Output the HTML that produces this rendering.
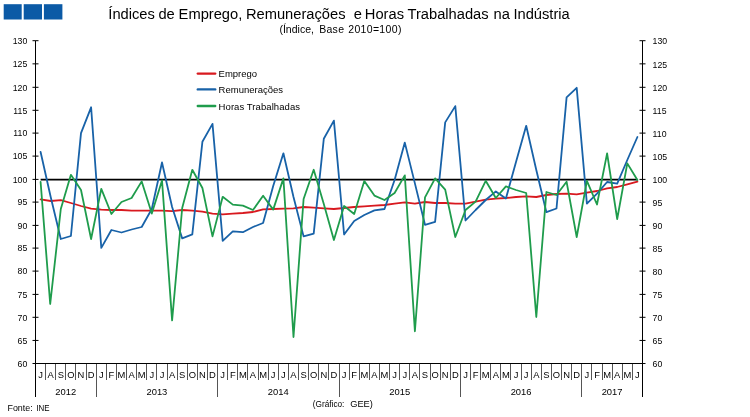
<!DOCTYPE html>
<html><head><meta charset="utf-8"><title>Índices de Emprego, Remunerações e Horas Trabalhadas na Indústria</title>
<style>
html,body{margin:0;padding:0;background:#fff;}
body{width:750px;height:417px;overflow:hidden;}
svg{display:block;}
text{font-family:"Liberation Sans",Arial,sans-serif;fill:#000;}
.ax{font-size:9.4px;}
.lg{font-size:9.5px;}
</style></head><body>
<svg width="750" height="417" viewBox="0 0 750 417">
<rect width="750" height="417" fill="#fff"/>
<g fill="#0b5aa6"><rect x="3.7" y="4.2" width="18" height="15.3"/><rect x="23.7" y="4.2" width="18.3" height="15.3"/><rect x="43.9" y="4.2" width="18.5" height="15.3"/></g>
<text y="18.9" font-size="14.7" xml:space="preserve"><tspan x="108.3">Índices </tspan><tspan x="158.4">de </tspan><tspan x="178.6">Emprego, </tspan><tspan x="245.9">Remunerações </tspan><tspan x="353.8">e </tspan><tspan x="364.8">Horas </tspan><tspan x="407.5">Trabalhadas </tspan><tspan x="493.6">na </tspan><tspan x="513.4">Indústria</tspan></text>
<g font-size="10.5"><text x="279.4" y="32.9" textLength="34.6" lengthAdjust="spacing">(Índice,</text><text x="319.2" y="32.9" textLength="24.8" lengthAdjust="spacing">Base</text><text x="348.2" y="32.9" textLength="53.2" lengthAdjust="spacing">2010=100)</text></g>
<g stroke="#000" stroke-width="1" fill="none" shape-rendering="crispEdges">
<path d="M35.5,40.5 V396.5 M642.5,40.5 V396.5 M35.5,363.5 H642.5"/>
</g><path d="M32.5,40.70 h6 M639.5,40.70 h6 M32.5,63.85 h6 M639.5,63.85 h6 M32.5,87.30 h6 M639.5,87.30 h6 M32.5,110.30 h6 M639.5,110.30 h6 M32.5,133.10 h6 M639.5,133.10 h6 M32.5,156.10 h6 M639.5,156.10 h6 M32.5,179.40 h6 M639.5,179.40 h6 M32.5,202.10 h6 M639.5,202.10 h6 M32.5,225.40 h6 M639.5,225.40 h6 M32.5,248.10 h6 M639.5,248.10 h6 M32.5,271.10 h6 M639.5,271.10 h6 M32.5,294.40 h6 M639.5,294.40 h6 M32.5,317.30 h6 M639.5,317.30 h6 M32.5,340.45 h6 M639.5,340.45 h6 M32.5,363.50 h6 M639.5,363.50 h6 " stroke="#000" stroke-width="1" fill="none"/><g>
</g>
<g stroke="#555" stroke-width="1" fill="none" shape-rendering="crispEdges">
<path d="M45.62,363.5 V379.8 M55.73,363.5 V379.8 M65.85,363.5 V379.8 M75.97,363.5 V379.8 M86.08,363.5 V379.8 M96.20,363.5 V396.5 M106.32,363.5 V379.8 M116.43,363.5 V379.8 M126.55,363.5 V379.8 M136.67,363.5 V379.8 M146.78,363.5 V379.8 M156.90,363.5 V379.8 M167.02,363.5 V379.8 M177.13,363.5 V379.8 M187.25,363.5 V379.8 M197.37,363.5 V379.8 M207.48,363.5 V379.8 M217.60,363.5 V396.5 M227.72,363.5 V379.8 M237.83,363.5 V379.8 M247.95,363.5 V379.8 M258.07,363.5 V379.8 M268.18,363.5 V379.8 M278.30,363.5 V379.8 M288.42,363.5 V379.8 M298.53,363.5 V379.8 M308.65,363.5 V379.8 M318.77,363.5 V379.8 M328.88,363.5 V379.8 M339.00,363.5 V396.5 M349.12,363.5 V379.8 M359.23,363.5 V379.8 M369.35,363.5 V379.8 M379.47,363.5 V379.8 M389.58,363.5 V379.8 M399.70,363.5 V379.8 M409.82,363.5 V379.8 M419.93,363.5 V379.8 M430.05,363.5 V379.8 M440.17,363.5 V379.8 M450.28,363.5 V379.8 M460.40,363.5 V396.5 M470.52,363.5 V379.8 M480.63,363.5 V379.8 M490.75,363.5 V379.8 M500.87,363.5 V379.8 M510.98,363.5 V379.8 M521.10,363.5 V379.8 M531.22,363.5 V379.8 M541.33,363.5 V379.8 M551.45,363.5 V379.8 M561.57,363.5 V379.8 M571.68,363.5 V379.8 M581.80,363.5 V396.5 M591.92,363.5 V379.8 M602.03,363.5 V379.8 M612.15,363.5 V379.8 M622.27,363.5 V379.8 M632.38,363.5 V379.8 "/>
</g>
<g class="ax" text-anchor="end">
<text transform="translate(27.3,43.9) scale(.93,1.03)">130</text><text transform="translate(27.3,67.0) scale(.93,1.03)">125</text><text transform="translate(27.3,90.5) scale(.93,1.03)">120</text><text transform="translate(27.3,113.5) scale(.93,1.03)">115</text><text transform="translate(27.3,136.3) scale(.93,1.03)">110</text><text transform="translate(27.3,159.3) scale(.93,1.03)">105</text><text transform="translate(27.3,182.6) scale(.93,1.03)">100</text><text transform="translate(27.3,205.3) scale(.93,1.03)">95</text><text transform="translate(27.3,228.6) scale(.93,1.03)">90</text><text transform="translate(27.3,251.3) scale(.93,1.03)">85</text><text transform="translate(27.3,274.3) scale(.93,1.03)">80</text><text transform="translate(27.3,297.6) scale(.93,1.03)">75</text><text transform="translate(27.3,320.5) scale(.93,1.03)">70</text><text transform="translate(27.3,343.6) scale(.93,1.03)">65</text><text transform="translate(27.3,366.7) scale(.93,1.03)">60</text>
</g>
<g class="ax">
<text transform="translate(652.6,44.3) scale(.93,1.03)">130</text><text transform="translate(652.6,67.5) scale(.93,1.03)">125</text><text transform="translate(652.6,90.9) scale(.93,1.03)">120</text><text transform="translate(652.6,113.9) scale(.93,1.03)">115</text><text transform="translate(652.6,136.7) scale(.93,1.03)">110</text><text transform="translate(652.6,159.7) scale(.93,1.03)">105</text><text transform="translate(652.6,183.0) scale(.93,1.03)">100</text><text transform="translate(652.6,205.7) scale(.93,1.03)">95</text><text transform="translate(652.6,229.0) scale(.93,1.03)">90</text><text transform="translate(652.6,251.7) scale(.93,1.03)">85</text><text transform="translate(652.6,274.7) scale(.93,1.03)">80</text><text transform="translate(652.6,298.0) scale(.93,1.03)">75</text><text transform="translate(652.6,320.9) scale(.93,1.03)">70</text><text transform="translate(652.6,344.1) scale(.93,1.03)">65</text><text transform="translate(652.6,367.1) scale(.93,1.03)">60</text>
</g>
<g class="ax" text-anchor="middle">
<text x="40.6" y="377.8">J</text><text x="50.7" y="377.8">A</text><text x="60.8" y="377.8">S</text><text x="70.9" y="377.8">O</text><text x="81.0" y="377.8">N</text><text x="91.1" y="377.8">D</text><text x="101.3" y="377.8">J</text><text x="111.4" y="377.8">F</text><text x="121.5" y="377.8">M</text><text x="131.6" y="377.8">A</text><text x="141.7" y="377.8">M</text><text x="151.8" y="377.8">J</text><text x="162.0" y="377.8">J</text><text x="172.1" y="377.8">A</text><text x="182.2" y="377.8">S</text><text x="192.3" y="377.8">O</text><text x="202.4" y="377.8">N</text><text x="212.5" y="377.8">D</text><text x="222.7" y="377.8">J</text><text x="232.8" y="377.8">F</text><text x="242.9" y="377.8">M</text><text x="253.0" y="377.8">A</text><text x="263.1" y="377.8">M</text><text x="273.2" y="377.8">J</text><text x="283.4" y="377.8">J</text><text x="293.5" y="377.8">A</text><text x="303.6" y="377.8">S</text><text x="313.7" y="377.8">O</text><text x="323.8" y="377.8">N</text><text x="333.9" y="377.8">D</text><text x="344.1" y="377.8">J</text><text x="354.2" y="377.8">F</text><text x="364.3" y="377.8">M</text><text x="374.4" y="377.8">A</text><text x="384.5" y="377.8">M</text><text x="394.6" y="377.8">J</text><text x="404.8" y="377.8">J</text><text x="414.9" y="377.8">A</text><text x="425.0" y="377.8">S</text><text x="435.1" y="377.8">O</text><text x="445.2" y="377.8">N</text><text x="455.3" y="377.8">D</text><text x="465.5" y="377.8">J</text><text x="475.6" y="377.8">F</text><text x="485.7" y="377.8">M</text><text x="495.8" y="377.8">A</text><text x="505.9" y="377.8">M</text><text x="516.0" y="377.8">J</text><text x="526.2" y="377.8">J</text><text x="536.3" y="377.8">A</text><text x="546.4" y="377.8">S</text><text x="556.5" y="377.8">O</text><text x="566.6" y="377.8">N</text><text x="576.7" y="377.8">D</text><text x="586.9" y="377.8">J</text><text x="597.0" y="377.8">F</text><text x="607.1" y="377.8">M</text><text x="617.2" y="377.8">A</text><text x="627.3" y="377.8">M</text><text x="637.4" y="377.8">J</text>
<text x="65.8" y="394.8">2012</text><text x="156.9" y="394.8">2013</text><text x="278.3" y="394.8">2014</text><text x="399.7" y="394.8">2015</text><text x="521.1" y="394.8">2016</text><text x="612.1" y="394.8">2017</text>
</g>
<line x1="40.6" y1="179.6" x2="637.4" y2="179.6" stroke="#000" stroke-width="1.7"/>
<g fill="none" stroke-width="1.8" stroke-linejoin="round" stroke-linecap="round">
<polyline stroke="#d8191f" points="40.6,199.4 50.7,201.0 60.8,200.2 70.9,203.0 81.0,206.0 91.1,208.6 101.3,209.6 111.4,210.0 121.5,210.0 131.6,210.6 141.7,210.6 151.8,210.6 162.0,210.6 172.1,211.2 182.2,210.0 192.3,210.6 202.4,211.6 212.5,213.6 222.7,214.4 232.8,213.6 242.9,213.0 253.0,212.0 263.1,209.4 273.2,209.0 283.4,208.6 293.5,208.4 303.6,207.0 313.7,207.6 323.8,208.4 333.9,209.0 344.1,208.0 354.2,207.0 364.3,206.4 374.4,205.6 384.5,205.0 394.6,203.6 404.8,202.4 414.9,203.6 425.0,202.0 435.1,203.0 445.2,203.0 455.3,203.6 465.5,203.6 475.6,201.6 485.7,199.6 495.8,198.6 505.9,198.0 516.0,197.0 526.2,196.4 536.3,197.0 546.4,195.0 556.5,194.0 566.6,193.6 576.7,194.4 586.9,192.6 597.0,191.0 607.1,188.4 617.2,187.0 627.3,184.4 637.4,181.6"/>
<polyline stroke="#1862a8" points="40.6,152.0 50.7,197.0 60.8,239.0 70.9,236.0 81.0,133.2 91.1,107.3 101.3,247.9 111.4,230.0 121.5,232.5 131.6,229.5 141.7,227.0 151.8,209.0 162.0,162.5 172.1,207.0 182.2,238.4 192.3,234.4 202.4,141.8 212.5,123.9 222.7,240.9 232.8,231.3 242.9,232.2 253.0,227.0 263.1,223.0 273.2,186.0 283.4,153.3 293.5,197.0 303.6,236.4 313.7,233.6 323.8,138.8 333.9,120.6 344.1,234.5 354.2,221.0 364.3,215.0 374.4,210.4 384.5,209.0 394.6,180.0 404.8,142.6 414.9,183.4 425.0,224.8 435.1,221.8 445.2,122.4 455.3,106.1 465.5,220.5 475.6,210.0 485.7,200.0 495.8,191.4 505.9,198.6 516.0,162.0 526.2,125.8 536.3,170.0 546.4,212.2 556.5,208.5 566.6,97.4 576.7,87.8 586.9,203.7 597.0,193.6 607.1,182.0 617.2,183.6 627.3,160.0 637.4,137.0"/>
<polyline stroke="#1f9c4c" points="40.6,182.0 50.2,304.0 60.8,209.0 70.9,174.8 81.0,190.0 91.1,239.0 101.3,188.8 111.4,214.0 121.5,202.0 131.6,198.0 141.7,181.4 151.8,213.6 162.0,180.4 172.1,320.4 182.2,208.0 192.3,169.8 202.4,188.0 212.5,236.4 222.7,196.8 232.8,204.6 242.9,205.6 253.0,210.0 263.1,195.8 273.2,209.6 283.4,178.4 293.5,337.0 303.6,199.0 313.7,169.8 323.8,204.0 333.9,240.0 344.1,206.0 354.2,214.0 364.3,181.0 374.4,195.6 384.5,200.0 394.6,193.0 404.8,175.4 414.9,331.3 425.0,197.4 435.1,178.4 445.2,189.6 455.3,237.0 465.5,210.0 475.6,201.6 485.7,180.8 495.8,198.0 505.9,186.4 516.0,190.0 526.2,193.0 536.3,317.0 546.4,192.0 556.5,195.0 566.6,181.8 576.7,237.0 586.9,180.8 597.0,204.5 607.1,153.4 617.2,219.0 627.3,163.4 637.4,180.0"/>
<path stroke="#d8191f" stroke-width="2.4" d="M197.8,73.6 H215.2"/><path stroke="#1862a8" stroke-width="2.4" d="M197.8,89.4 H215.2"/><path stroke="#1f9c4c" stroke-width="2.4" d="M197.8,106 H215.2"/>
</g>
<g class="lg"><text x="218.6" y="76.8" textLength="38.4" lengthAdjust="spacing">Emprego</text><text x="218.6" y="93.3" textLength="64.4" lengthAdjust="spacing">Remunerações</text><text x="218.6" y="109.6" textLength="81.4" lengthAdjust="spacing">Horas Trabalhadas</text></g>
<g font-size="9.5"><text x="7.5" y="411" textLength="25.2" lengthAdjust="spacingAndGlyphs">Fonte:</text><text x="36.4" y="411" textLength="13.2" lengthAdjust="spacingAndGlyphs">INE</text></g>
<g font-size="9.4"><text x="312.8" y="406.6" textLength="31.6" lengthAdjust="spacingAndGlyphs">(Gráfico:</text><text x="350.2" y="406.6" textLength="22.6" lengthAdjust="spacingAndGlyphs">GEE)</text></g>
</svg></body></html>
